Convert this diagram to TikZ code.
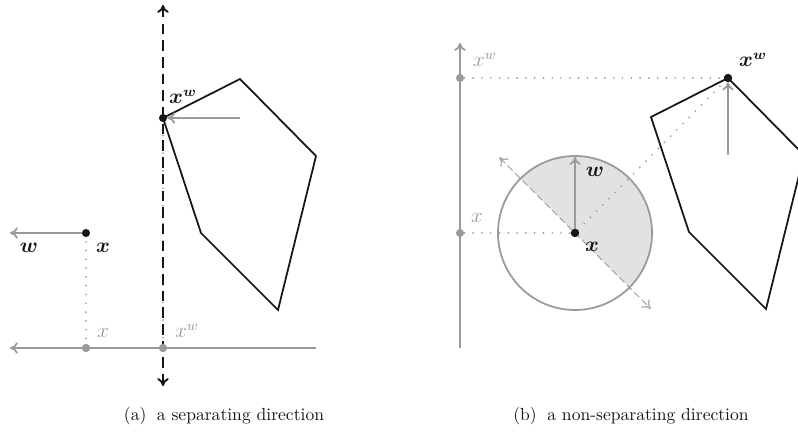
\documentclass[tikz,border=0pt]{standalone}
\usepackage{amsmath}
\usepackage{bm}
\usetikzlibrary{arrows.meta,calc}
\definecolor{Ink}{HTML}{161616}
\definecolor{Fog}{HTML}{9A9A9A}
\definecolor{Haze}{HTML}{E1E2E4}

\begin{document}
\begin{tikzpicture}[x=0.02cm,y=-0.02cm,
    tip/.style={-{To[length=4.5pt,width=6.5pt]}},
    fogline/.style={Fog,line width=1pt},
    inkline/.style={Ink,line width=1pt,line join=miter},
    sepline/.style={Ink,line width=1.1pt,dash pattern=on 6pt off 3.5pt},
    halfline/.style={Fog,line width=0.6pt,dash pattern=on 4pt off 2pt},
    proj/.style={Fog,line width=1.1pt,line cap=round,dash pattern=on 0pt off 5pt},
    dot/.style={circle,fill=Ink,inner sep=0pt,minimum size=4.6pt},
    fogdot/.style={circle,fill=Fog,inner sep=0pt,minimum size=4.6pt},
    lbl/.style={inner sep=0pt,text=Ink,font=\large},
    foglbl/.style={inner sep=0pt,text=Fog,font=\large},
    caption/.style={inner sep=0pt,text=Ink}]
  \useasboundingbox (0,0) rectangle (798,436);
  \clip (0,0) rectangle (798,436);

  % (a)
  \coordinate (sepTop) at (163,5);
  \coordinate (sepBot) at (163,386);
  \coordinate (axAL) at (10,348);
  \coordinate (axAR) at (316,348);
  \coordinate (wTipA) at (10,233);
  \coordinate (pushA) at (240,118);
  \node[fogdot] (xpA) at (86,348) {};
  \node[fogdot] (xwpA) at (163,348) {};

  \draw[proj] (86,233) -- (xpA);
  \draw[proj] (163,118) -- (xwpA);
  \draw[sepline,{To[length=4.5pt,width=6.5pt]}-{To[length=4.5pt,width=6.5pt]}] (sepTop) -- (sepBot);
  \draw[fogline,{To[length=4.5pt,width=6.5pt]}-] (axAL) -- (axAR);
  \node[fogdot] at (xpA) {};
  \node[fogdot] at (xwpA) {};
  \draw[inkline] (163,118) -- (240,79) -- (316,156) -- (278,310) -- (201,233) -- cycle;
  \node[dot] (xA) at (86,233) {};
  \node[dot] (xwA) at (163,118) {};
  \draw[fogline,tip] (xA) -- (wTipA);
  \draw[fogline,tip] (pushA) -- (xwA);

  \node[lbl] (lxwA) at (183,97) {$\bm{x}^{\bm{w}}$};
  \node[lbl] (lxA) at (103,248) {$\bm{x}$};
  \node[lbl] (lwA) at (29,248) {$\bm{w}$};
  \node[foglbl] (lxpA) at (103,333) {$x$};
  \node[foglbl] (lxwpA) at (187,331) {$x^w$};

  % (b)
  \coordinate (c) at (575,233);
  \coordinate (axBB) at (460,348);
  \coordinate (axBT) at (460,43);
  \coordinate (wTipB) at (575,157);
  \coordinate (pushB) at (728,155);
  \coordinate (hlA) at ($(c)+(225:107)$);
  \coordinate (hlB) at ($(c)+(45:107)$);

  \fill[Haze] (c) -- ++(225:77) arc[start angle=225,end angle=405,radius=77] -- cycle;
  \draw[fogline] (c) circle[radius=77];
  \draw[halfline,{To[length=4.5pt,width=6.5pt]}-{To[length=4.5pt,width=6.5pt]}] (hlA) -- (hlB);
  \draw[fogline,tip] (axBB) -- (axBT);
  \node[fogdot] (xpB) at (460,233) {};
  \node[fogdot] (xwpB) at (460,78) {};
  \node[dot] (xB) at (c) {};
  \node[dot] (xwB) at (728,78) {};
  \draw[proj] (xpB) -- (xB);
  \draw[proj] (xwpB) -- (xwB);
  \draw[proj] (xB) -- (xwB);
  \draw[fogline,tip] (xB) -- (wTipB);
  \draw[inkline] (651,117) -- (728,78) -- (804,155) -- (766,309) -- (689,232) -- cycle;
  \draw[fogline,tip] (pushB) -- (xwB);
  \node[dot] at (xB) {};
  \node[dot] at (xwB) {};

  \node[foglbl] (lxwpB) at (485,60) {$x^w$};
  \node[foglbl] (lxpB) at (477,218) {$x$};
  \node[lbl] (lxwB) at (753,60) {$\bm{x}^{\bm{w}}$};
  \node[lbl] (lwB) at (595,172) {$\bm{w}$};
  \node[lbl] (lxB) at (592,247) {$\bm{x}$};

  \node[caption] (capA) at (224,416) {(a)\hspace{0.6em}a separating direction};
  \node[caption] (capB) at (631,416) {(b)\hspace{0.6em}a non-separating direction};
\end{tikzpicture}
\end{document}
